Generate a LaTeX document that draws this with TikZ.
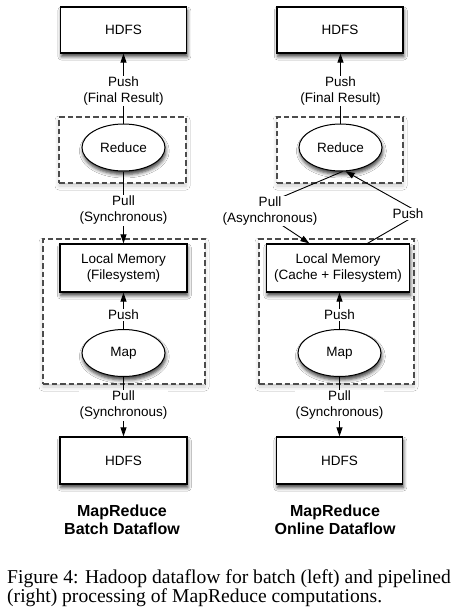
\documentclass[tikz,border=0pt]{standalone}
\usepackage{fontspec}
\setmainfont{Liberation Serif}
\setsansfont{Liberation Sans}
\usetikzlibrary{arrows.meta,shapes.geometric,shadows.blur,calc}
\begin{document}
\begin{tikzpicture}[x=1pt,y=-1pt,
  every node/.style={font=\sffamily\fontsize{13.5}{16}\selectfont},
  shad/.style={blur shadow={shadow xshift=0.8pt, shadow yshift=-3.5pt, shadow blur radius=3.5pt, shadow opacity=75}},
  box/.style={draw, line width=1.2pt, fill=white, minimum width=126pt, minimum height=46pt, inner sep=0pt, align=center, shad},
  proc/.style={draw, ellipse, line width=1pt, fill=white, minimum width=83pt, minimum height=47pt, inner sep=0pt, shad},
  group/.style={draw=black!70, fill=white, line width=1.2pt, dash pattern=on 5.5pt off 3pt, inner sep=0pt,
     blur shadow={shadow xshift=0pt, shadow yshift=-3pt, shadow blur radius=4pt, shadow opacity=20}},
  arr/.style={line width=0.9pt, -{Triangle[length=9pt,width=6pt]}},
  lbl/.style={fill=white, inner sep=1pt, align=center},
  title/.style={font=\sffamily\bfseries\fontsize{16}{18}\selectfont, align=center},
  captext/.style={font=\rmfamily\fontsize{19.6}{19.5}\selectfont, anchor=base west, inner sep=0pt}
]
\useasboundingbox (0,0) rectangle (460,613);
\fill[white] (0,0) rectangle (460,613);

% ---------- dashed groups ----------
\node[group, minimum width=127pt, minimum height=66pt] (rgA) at (122.5,150) {};
\node[group, minimum width=162pt, minimum height=145pt] (mgA) at (124,311.5) {};
\node[group, minimum width=126pt, minimum height=66pt] (rgB) at (340,150) {};
\node[group, minimum width=155pt, minimum height=145pt] (mgB) at (336.5,311.5) {};

% ---------- left column ----------
\node[box] (hdfsA) at (123.5,30) {HDFS};
\node[proc] (reduceA) at (123.5,147.5) {Reduce};
\node[box, minimum width=127pt, minimum height=48pt] (lmemA) at (123.5,268) {Local Memory\\(Filesystem)};
\node[proc] (mapA) at (123.5,353) {Map};
\node[box, minimum width=127pt, minimum height=47pt] (hdfsA2) at (123.5,460.5) {HDFS};
\node[title] (titleA) at (122,520) {MapReduce\\Batch Dataflow};

% ---------- right column ----------
\node[box] (hdfsB) at (340,30) {HDFS};
\node[proc] (reduceB) at (340.5,147.5) {Reduce};
\node[box, minimum width=143pt, minimum height=48pt] (lmemB) at (338,268) {Local Memory\\(Cache + Filesystem)};
\node[proc] (mapB) at (339.5,353) {Map};
\node[box, minimum width=126pt, minimum height=47pt] (hdfsB2) at (339.5,460.5) {HDFS};
\node[title] (titleB) at (335,520) {MapReduce\\Online Dataflow};

% ---------- left connectors ----------
\draw[arr] (reduceA) -- node[lbl, pos=0.465] {Push\\(Final Result)} (hdfsA);
\draw[arr] (reduceA) -- node[lbl, pos=0.54] {Pull\\(Synchronous)} (lmemA);
\draw[arr] (mapA) -- node[lbl, pos=0.39] {Push} (lmemA);
\draw[arr] (mapA) -- node[lbl, pos=0.475] {Pull\\(Synchronous)} (hdfsA2);

% ---------- right connectors ----------
\draw[arr] (reduceB.north) -- node[lbl, pos=0.465] {Push\\(Final Result)} (reduceB.north |- hdfsB.south);
\draw[arr] (mapB.north) -- node[lbl, pos=0.39] {Push} (mapB.north |- lmemB.south);
\draw[arr] (mapB) -- node[lbl, pos=0.475] {Pull\\(Synchronous)} (hdfsB2);

\coordinate (vpull) at (256,208);
\coordinate (vpush) at (420,213);
\draw[arr] (reduceB.-85) -- (vpull) -- ($(lmemB.north west)+(43.5,0)$);
\draw[arr] ($(lmemB.north west)+(101.5,0)$) -- (vpush) -- (reduceB.-78);
\node[lbl] (lpull) at (270,211) {Pull\\(Asynchronous)};
\node[lbl] (lpush) at (408,214) {Push};

% ---------- caption ----------
\node[captext] (cap1) at (7,583) {Figure 4: Hadoop dataflow for batch (left) and pipelined};
\node[captext] (cap2) at (7,602) {(right) processing of MapReduce computations.};
\end{tikzpicture}
\end{document}
